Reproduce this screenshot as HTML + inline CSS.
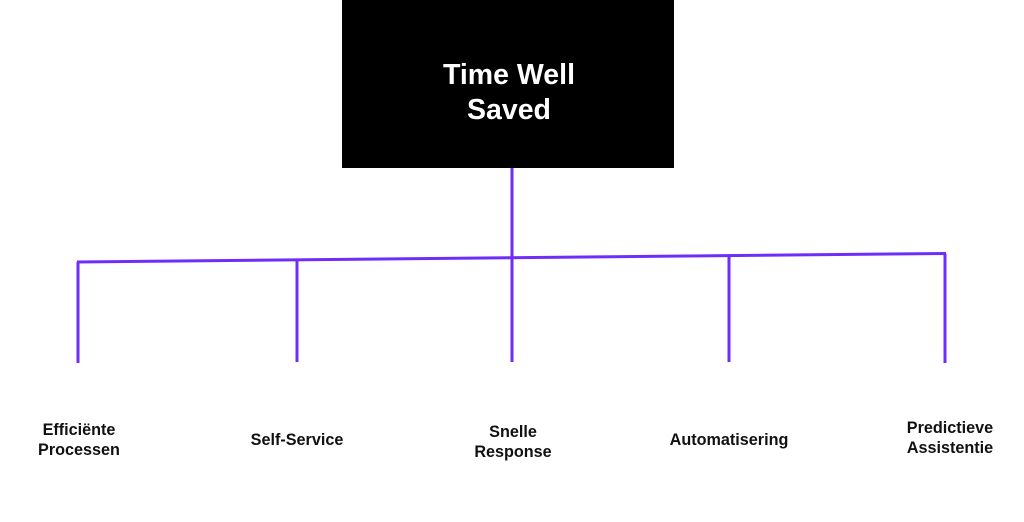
<!DOCTYPE html>
<html><head><meta charset="utf-8"><style>
html,body{margin:0;padding:0;background:#fff;}
body{width:1024px;height:522px;position:relative;overflow:hidden;font-family:"Liberation Sans",sans-serif;}
.box{position:absolute;left:342px;top:0;width:332px;height:168px;background:#000;color:#fff;font-weight:bold;font-size:28.5px;line-height:35px;text-align:center;}
.box div{position:absolute;left:0;right:0;top:58px;padding-left:2px;}
.lbl{position:absolute;font-weight:bold;font-size:16.2px;line-height:20px;text-align:center;color:#111;width:200px;margin-left:-100px;}
</style></head><body>
<div class="box"><div>Time Well<br>Saved</div></div>
<svg width="1024" height="522" style="position:absolute;left:0;top:0">
<g stroke="#6f2dfa" stroke-width="3" fill="none">
<line x1="512" y1="168" x2="512" y2="362"/>
<line x1="77" y1="262" x2="946" y2="253.5"/>
<line x1="78" y1="262" x2="78" y2="363"/>
<line x1="297" y1="260" x2="297" y2="362"/>
<line x1="729" y1="256" x2="729" y2="362"/>
<line x1="945" y1="253.5" x2="945" y2="363"/>
</g></svg>
<div class="lbl" style="left:79px;top:420px">Efficiënte<br>Processen</div>
<div class="lbl" style="left:297px;top:430px">Self-Service</div>
<div class="lbl" style="left:513px;top:422px">Snelle<br>Response</div>
<div class="lbl" style="left:729px;top:430px">Automatisering</div>
<div class="lbl" style="left:950px;top:418px">Predictieve<br>Assistentie</div>
</body></html>
